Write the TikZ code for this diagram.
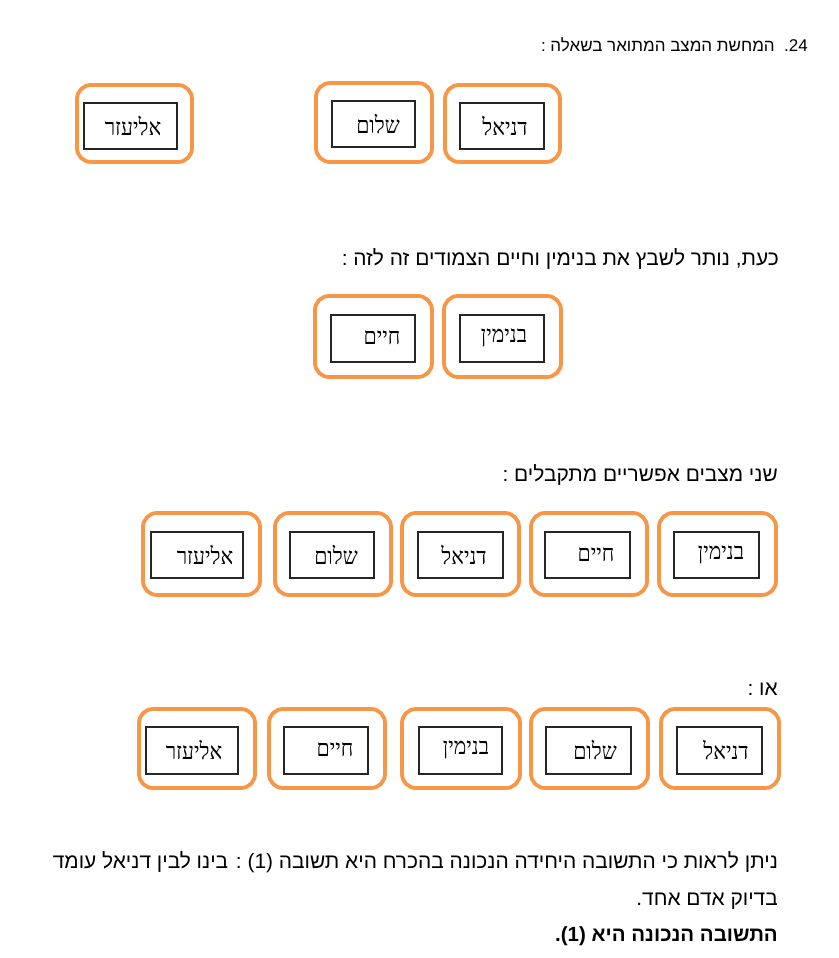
\documentclass[tikz,border=0pt]{standalone}
\usepackage{fontspec}
\TeXXeTstate=1
\newfontfamily\hebsans[Script=Hebrew]{Liberation Sans}
\newfontfamily\hebserif[Script=Hebrew,FakeStretch=0.9]{Liberation Serif}
\definecolor{tagorange}{HTML}{F79646}

% one name tag: orange rounded frame, black inner box, label
% #1 node name, #2/#3 frame corners, #4/#5 inner box corners, #6 label position, #7 text
\newcommand\persontag[7]{%
  \draw[outerbox] (#2) rectangle (#3);
  \draw[innerbox] (#4) rectangle (#5);
  \node[namelabel] (#1) at (#6) {\beginR #7\endR};
}

\begin{document}
\begin{tikzpicture}[x=1pt,y=-1pt,
  outerbox/.style={draw=tagorange, line width=3.8pt, rounded corners=14pt},
  innerbox/.style={draw=black!85, line width=1.1pt},
  namelabel/.style={font=\hebserif\fontsize{23.5}{26}\selectfont, inner sep=0pt},
  para/.style={font=\hebsans\fontsize{20.9}{25}\selectfont, anchor=base east, inner sep=0pt},
  headline/.style={para, font=\hebsans\fontsize{17}{20}\selectfont},
  parabold/.style={para, font=\hebsans\bfseries\fontsize{20.5}{24}\selectfont}]
\useasboundingbox (0,0) rectangle (838,958);

% heading
\node[headline] (head) at (808,52) {\beginR\beginL24\endL.\ \ המחשת המצב המתואר בשאלה :\endR};

% the situation described in the question
\persontag{eliezerA}{77,85}{192,162}{84,103}{177,149}{133,126}{אליעזר}
\persontag{shalomA}{316,83}{432,162}{332,101}{415,147}{378,124}{שלום}
\persontag{danielA}{445,85}{560,162}{460,103}{544,149}{505,126}{דניאל}

\node[para] (now) at (779,265) {\beginR כעת, נותר לשבץ את בנימין וחיים הצמודים זה לזה :\endR};

\persontag{chaimB}{315,296}{432,377}{331,315}{415,362}{382,338}{חיים}
\persontag{binyaminB}{444,296}{561,377}{460,315}{544,362}{504,338}{בנימין}

\node[para] (two) at (778,481) {\beginR שני מצבים אפשריים מתקבלים :\endR};

% first arrangement
\persontag{eliezerC}{143,513}{260,595}{151,532}{243,578}{205,555}{אליעזר}
\persontag{shalomC}{275,513}{391,595}{290,532}{374,578}{336,555}{שלום}
\persontag{danielC}{402,513}{519,595}{418,532}{503,578}{464,555}{דניאל}
\persontag{chaimC}{531,513}{647,595}{545,532}{630,578}{596,555}{חיים}
\persontag{binyaminC}{659,513}{776,595}{674,532}{759,578}{721,555}{בנימין}

\node[para] (orline) at (778,695) {\beginR או :\endR};

% second arrangement
\persontag{eliezerD}{139,709}{255,788}{146,727}{238,774}{194,750}{אליעזר}
\persontag{chaimD}{269,709}{385,788}{284,727}{368,774}{335,750}{חיים}
\persontag{binyaminD}{402,709}{520,788}{419,727}{502,774}{466,750}{בנימין}
\persontag{shalomD}{531,709}{648,788}{546,727}{631,774}{595,750}{שלום}
\persontag{danielD}{661,709}{779,788}{677,727}{762,774}{726,750}{דניאל}

% conclusion
\node[para] (concl1) at (778,868) {\beginR ניתן לראות כי התשובה היחידה הנכונה בהכרח היא תשובה \beginL(1)\endL{} : בינו לבין דניאל עומד\endR};
\node[para] (concl2) at (778,905) {\beginR בדיוק אדם אחד.\endR};
\node[parabold] (answer) at (778,941) {\beginR התשובה הנכונה היא \beginL(1)\endL.\endR};
\end{tikzpicture}
\end{document}
